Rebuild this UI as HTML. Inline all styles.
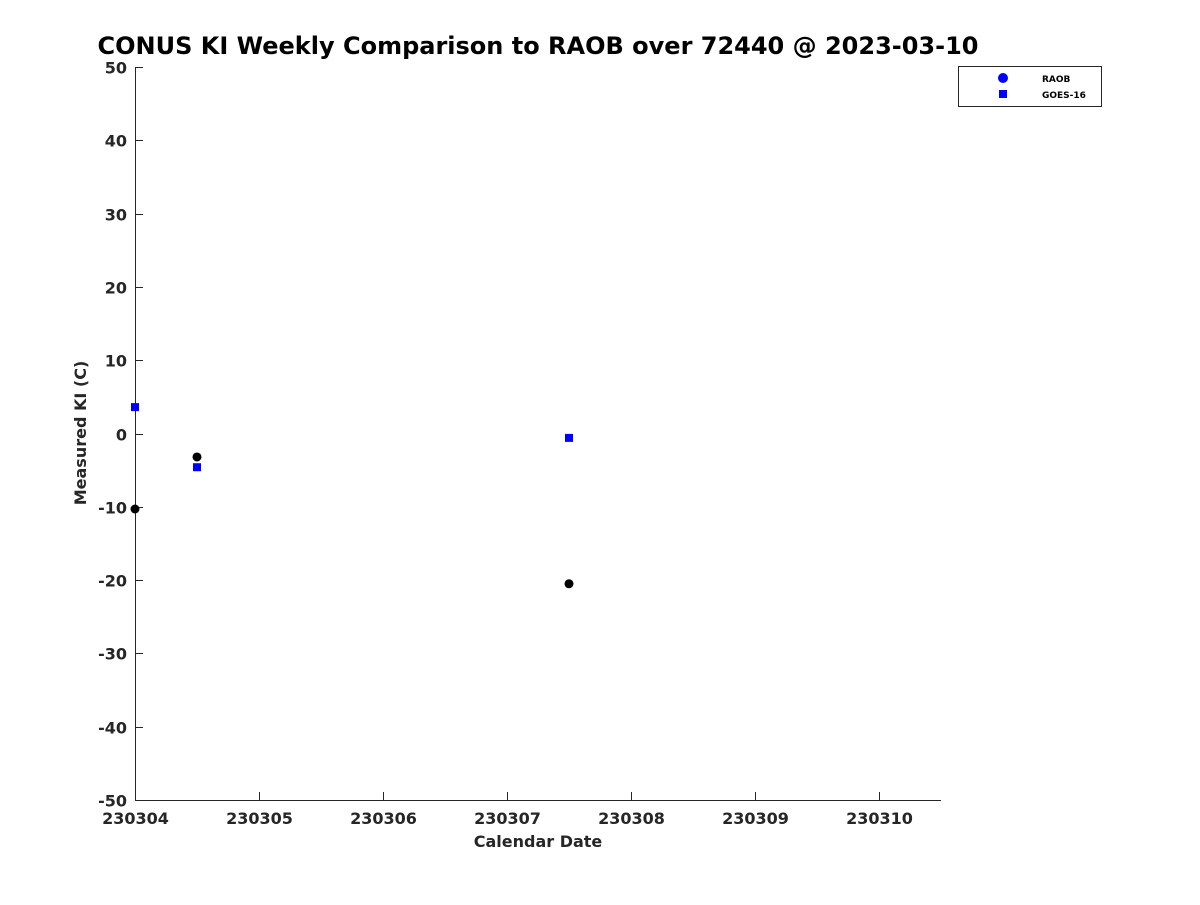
<!DOCTYPE html>
<html><head><meta charset="utf-8"><style>
body{margin:0;background:#fff;}
svg text{font-family:"DejaVu Sans","Liberation Sans",sans-serif;font-weight:bold;fill:#262626;}
</style></head><body>
<svg width="1200" height="900" xmlns="http://www.w3.org/2000/svg">
<rect width="1200" height="900" fill="#fff"/>
<text x="538" y="54" text-anchor="middle" font-size="24" style="fill:#000">CONUS KI Weekly Comparison to RAOB over 72440 @ 2023-03-10</text>
<g id="axes"></g>
<g id="marks"></g>
<text x="538" y="847" text-anchor="middle" font-size="16">Calendar Date</text>
<text transform="translate(86,433) rotate(-90)" text-anchor="middle" font-size="16">Measured KI (C)</text>
<g>
<rect x="958.5" y="66.5" width="143" height="40" fill="#fff" stroke="#262626" stroke-width="1"/>
<circle cx="1003" cy="78" r="5" fill="#0000ff"/>
<text x="1042" y="82" font-size="9" style="fill:#000">RAOB</text>
<rect x="999" y="90" width="8" height="8" fill="#0000ff"/>
<text x="1042" y="98" font-size="9" style="fill:#000">GOES-16</text>
</g>
</svg>
<script>
const xTicks=[230304,230305,230306,230307,230308,230309,230310];
const yTicks=[-50,-40,-30,-20,-10,0,10,20,30,40,50];
const raobX=[230304,230304.5,230307.5];
const raobY=[-10.3,-3.2,-20.5];
const goesX=[230304,230304.5,230307.5];
const goesY=[3.6,-4.6,-0.6];
const X0=230304,X1=230310.5,Y0=-50,Y1=50;
const L=135,R=941,T=67,B=800;
function sx(v){return L+(v-X0)/(X1-X0)*(R-L);}
function sy(v){return B-(v-Y0)/(Y1-Y0)*(B-T);}
const NS="http://www.w3.org/2000/svg";
const ax=document.getElementById('axes'),mk=document.getElementById('marks');
function el(t,a,p){const e=document.createElementNS(NS,t);for(const k in a)e.setAttribute(k,a[k]);p.appendChild(e);return e;}
let l=el('line',{x1:L,y1:B+0.5,x2:R,y2:B+0.5,stroke:'#262626'},ax);


l=el('line',{x1:L+0.5,y1:T,x2:L+0.5,y2:B,stroke:'#262626'},ax);


xTicks.forEach(v=>{const x=Math.round(sx(v))+0.5;
 const t=el('line',{x1:x,y1:B,x2:x,y2:B-8,stroke:'#262626'},ax);
 
 
 const s=el('text',{x:x,y:B+24,'text-anchor':'middle','font-size':16},ax);s.textContent=v;
 
 });
yTicks.forEach(v=>{const y=Math.round(sy(v))+0.5;
 const t=el('line',{x1:L,y1:y,x2:L+8,y2:y,stroke:'#262626'},ax);
 
 
 const s=el('text',{x:L-8,y:y+6,'text-anchor':'end','font-size':16},ax);s.textContent=v;
 
 });
raobX.forEach((v,i)=>{const c=el('circle',{cx:sx(v),cy:sy(raobY[i]),r:4.5,fill:'#000'},mk);
 
 });
goesX.forEach((v,i)=>{const r=el('rect',{x:sx(v)-4,y:sy(goesY[i])-4,width:8,height:8,fill:'#0000ff'},mk);
 
 });
</script>
</body></html>
